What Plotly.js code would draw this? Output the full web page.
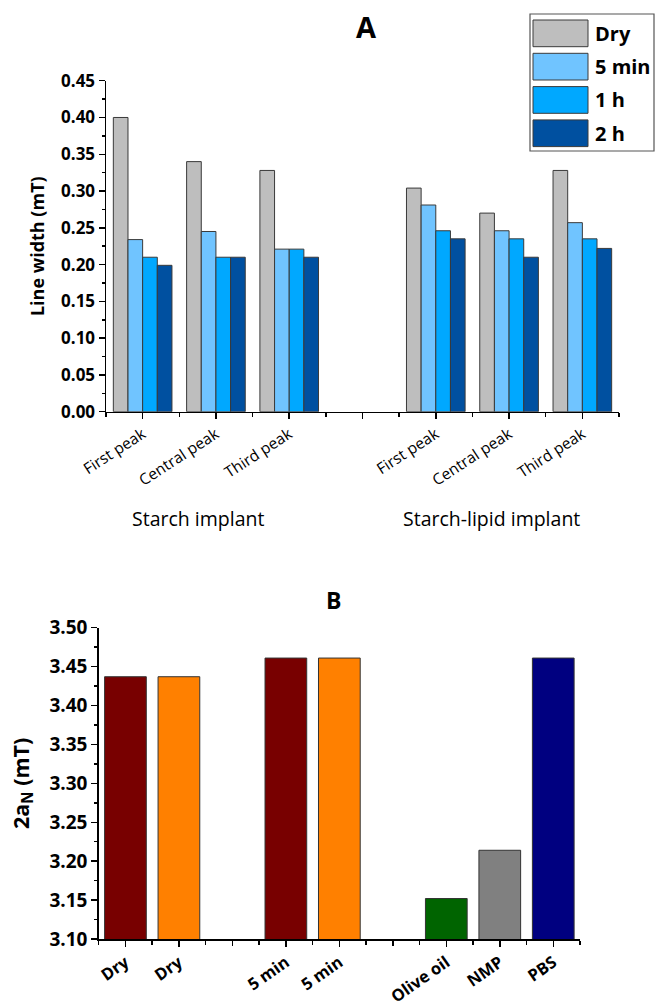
<!DOCTYPE html>
<html>
<head>
<meta charset="utf-8">
<script src="https://cdn.plot.ly/plotly-3.0.1.min.js"></script>
<style>html,body{margin:0;padding:0;background:#fff;}#chart{width:655px;height:1006px;}</style>
</head>
<body>
<div id="chart"></div>
<script>
// ---------- Panel A data ----------
const peakLabels = ['First peak', 'Central peak', 'Third peak', '', 'First peak', 'Central peak', 'Third peak'];
const groupLabels = ['Starch implant', 'Starch-lipid implant'];
const seriesNamesA = ['Dry', '5 min', '1 h', '2 h'];
const dryA  = [0.400, 0.340, 0.328, null, 0.304, 0.270, 0.328];
const min5A = [0.234, 0.245, 0.221, null, 0.281, 0.246, 0.257];
const h1A   = [0.210, 0.210, 0.221, null, 0.246, 0.235, 0.235];
const h2A   = [0.199, 0.210, 0.210, null, 0.235, 0.210, 0.222];
const seriesColorsA = ['#BEBEBE', '#70C4FF', '#00A8FF', '#0050A0'];

// ---------- Panel B data ----------
const labelsB = ['Dry', 'Dry', '', '5 min', '5 min', '', 'Olive oil', 'NMP', 'PBS'];
const valuesB = [3.437, 3.437, null, 3.461, 3.461, null, 3.152, 3.214, 3.461];
const colorsB = ['#780000', '#FF8000', '#ffffff', '#780000', '#FF8000', '#ffffff', '#006400', '#808080', '#000080'];

// ---------- helpers ----------
const W = 655, H = 1006;
const px = v => v / W;
const py = v => 1 - v / H;
const FONT = 'Open Sans, Noto Sans, sans-serif';

const posA = peakLabels.map((_, i) => i + 1);
const posB = labelsB.map((_, i) => i + 1);
const seriesA = [dryA, min5A, h1A, h2A];

// labelled ticks only (gap slots get a tick from an overlay axis)
const labPosA = posA.filter((_, i) => peakLabels[i] !== '');
const labTxtA = peakLabels.filter(t => t !== '');
const gapPosA = posA.filter((_, i) => peakLabels[i] === '');
const labPosB = posB.filter((_, i) => labelsB[i] !== '');
const labTxtB = labelsB.filter(t => t !== '');
const gapPosB = posB.filter((_, i) => labelsB[i] === '');

const traces = seriesA.map((vals, k) => ({
  type: 'bar',
  name: seriesNamesA[k],
  x: posA,
  y: vals,
  xaxis: 'x',
  yaxis: 'y',
  marker: {color: seriesColorsA[k], line: {color: '#3a3a3a', width: 1}},
  showlegend: false,
  hoverinfo: 'y'
}));

traces.push({
  type: 'bar',
  x: posB,
  y: valuesB,
  xaxis: 'x2',
  yaxis: 'y2',
  width: 0.78,
  marker: {color: colorsB, line: {color: '#333333', width: 1}},
  showlegend: false,
  hoverinfo: 'y'
});

// invisible helper traces so the overlay tick axes get drawn
traces.push({type: 'scatter', x: [1], y: [0], xaxis: 'x3', yaxis: 'y', mode: 'markers',
  marker: {opacity: 0}, showlegend: false, hoverinfo: 'skip'});
traces.push({type: 'scatter', x: [1], y: [3.2], xaxis: 'x4', yaxis: 'y2', mode: 'markers',
  marker: {opacity: 0}, showlegend: false, hoverinfo: 'skip'});

const halfTicks = n => Array.from({length: n + 1}, (_, i) => i + 0.5);

const axisCommon = {
  showgrid: false, zeroline: false, showline: true, linecolor: '#000', linewidth: 1.5,
  ticks: 'outside', ticklen: 6, tickwidth: 1.5, tickcolor: '#000'
};

const shapes = [];
const annotations = [];

// custom legend (panel A)
shapes.push({type: 'rect', xref: 'paper', yref: 'paper', x0: px(530), x1: px(654), y0: py(151), y1: py(14),
  line: {color: '#555', width: 1.2}, fillcolor: 'rgba(0,0,0,0)'});
seriesNamesA.forEach((nm, k) => {
  const top = 20 + k * 33.3, bot = top + 26.7;
  shapes.push({type: 'rect', xref: 'paper', yref: 'paper', x0: px(533), x1: px(588), y0: py(bot), y1: py(top),
    line: {color: '#3a3a3a', width: 1}, fillcolor: seriesColorsA[k]});
  annotations.push({xref: 'paper', yref: 'paper', x: px(593), y: py((top + bot) / 2), xanchor: 'left', yanchor: 'middle',
    text: '<b>' + nm + '</b>', showarrow: false, font: {family: FONT, size: 20, color: '#000'}});
});

// group labels (panel A)
annotations.push({xref: 'x', yref: 'paper', x: 2, xshift: -18, y: py(518), yanchor: 'middle', xanchor: 'center',
  text: groupLabels[0], showarrow: false, font: {family: FONT, size: 19.5, color: '#000'}});
annotations.push({xref: 'x', yref: 'paper', x: 6, xshift: -18, y: py(518), yanchor: 'middle', xanchor: 'center',
  text: groupLabels[1], showarrow: false, font: {family: FONT, size: 19.5, color: '#000'}});

// panel B title
annotations.push({xref: 'paper', yref: 'paper', x: px(333), y: py(600), xanchor: 'center', yanchor: 'middle',
  text: '<b>B</b>', showarrow: false, font: {family: FONT, size: 23, color: '#000'}});

const domXA = [px(106), px(619)];
const domXB = [px(98.7), px(580)];

const layout = {
  width: W, height: H,
  margin: {l: 0, r: 0, t: 0, b: 0},
  paper_bgcolor: '#fff', plot_bgcolor: 'rgba(0,0,0,0)',
  font: {family: FONT, color: '#000'},
  showlegend: false,
  barmode: 'group', bargap: 0.2, bargroupgap: 0,
  title: {text: '<b>A</b>', x: px(366), y: py(28), xref: 'paper', yref: 'paper', xanchor: 'center', yanchor: 'middle',
    font: {family: FONT, size: 29, color: '#000'}},
  xaxis: Object.assign({}, axisCommon, {
    domain: domXA, anchor: 'y', range: [0.5, 7.5],
    tickmode: 'array', tickvals: labPosA, ticktext: labTxtA, tickangle: -33,
    tickfont: {family: FONT, size: 15.5, color: '#000'},
    minor: {tickmode: 'array', tickvals: halfTicks(7), ticks: 'outside', ticklen: 4, tickwidth: 1.5, tickcolor: '#000'}
  }),
  xaxis3: Object.assign({}, axisCommon, {
    domain: domXA, anchor: 'y', overlaying: 'x', range: [0.5, 7.5], showline: false,
    tickmode: 'array', tickvals: gapPosA, showticklabels: false
  }),
  yaxis: Object.assign({}, axisCommon, {
    domain: [py(411.7), py(80.7)], anchor: 'x', range: [0, 0.45],
    tick0: 0, dtick: 0.05, tickformat: '.2f',
    tickfont: {family: FONT, size: 17, color: '#000', weight: 'bold'},
    title: {text: '<b>Line width (mT)</b>', font: {family: FONT, size: 18, color: '#000'}, standoff: 12},
    minor: {dtick: 0.025, ticks: 'outside', ticklen: 3, tickwidth: 1.5, tickcolor: '#000'}
  }),
  xaxis2: Object.assign({}, axisCommon, {
    domain: domXB, anchor: 'y2', range: [0.5, 9.5],
    tickmode: 'array', tickvals: labPosB, ticktext: labTxtB, tickangle: -35,
    tickfont: {family: FONT, size: 16.5, color: '#000', weight: 'bold'},
    minor: {tickmode: 'array', tickvals: halfTicks(9), ticks: 'outside', ticklen: 4, tickwidth: 1.5, tickcolor: '#000'}
  }),
  xaxis4: Object.assign({}, axisCommon, {
    domain: domXB, anchor: 'y2', overlaying: 'x2', range: [0.5, 9.5], showline: false,
    tickmode: 'array', tickvals: gapPosB, showticklabels: false
  }),
  yaxis2: Object.assign({}, axisCommon, {
    domain: [py(939), py(627.7)], anchor: 'x2', range: [3.10, 3.50],
    tick0: 3.10, dtick: 0.05, tickformat: '.2f',
    tickfont: {family: FONT, size: 19, color: '#000', weight: 'bold'},
    title: {text: '<b>2a<sub>N</sub> (mT)</b>', font: {family: FONT, size: 21.5, color: '#000'}, standoff: 14},
    minor: {dtick: 0.025, ticks: 'outside', ticklen: 3, tickwidth: 1.5, tickcolor: '#000'}
  }),
  shapes: shapes,
  annotations: annotations
};

Plotly.newPlot('chart', traces, layout, {displayModeBar: false, staticPlot: true});
</script>
</body>
</html>
